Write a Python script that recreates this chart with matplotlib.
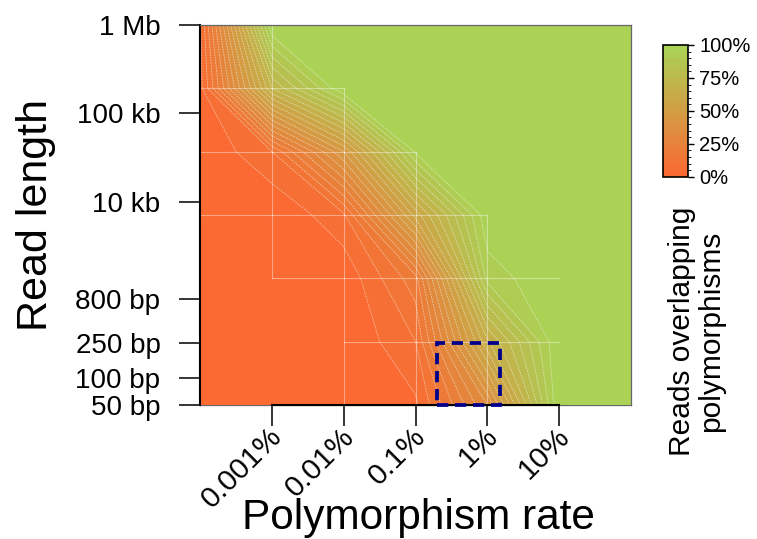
import numpy as np
import matplotlib
matplotlib.use("Agg")
import matplotlib.pyplot as plt
from matplotlib.colors import LinearSegmentedColormap, ListedColormap, BoundaryNorm
from matplotlib.patches import Rectangle
import matplotlib.transforms as mtransforms

plt.rcParams['font.family'] = ['Liberation Sans', 'DejaVu Sans']

# ---- data ----
rates = [1e-6, 1e-5, 1e-4, 1e-3, 1e-2, 1e-1, 1.0]          # polymorphism rate (fraction)
read_lengths = [50, 260, 1360, 7070, 36800, 192000, 1000000]  # bp
overlap = [  # fraction of reads overlapping polymorphisms, rows = read_lengths, cols = rates
    [0.00, 0.00, 0.00, 0.04, 0.35, 1.00, 1.00],
    [0.00, 0.00, 0.00, 0.10, 0.64, 1.00, 1.00],
    [0.00, 0.00, 0.01, 0.18, 0.92, 1.00, 1.00],
    [0.00, 0.00, 0.09, 0.57, 0.99, 1.00, 1.00],
    [0.00, 0.10, 0.45, 0.96, 1.00, 1.00, 1.00],
    [0.03, 0.70, 1.00, 1.00, 1.00, 1.00, 1.00],
    [0.04, 1.00, 1.00, 1.00, 1.00, 1.00, 1.00],
]
levels = [0.00, 0.05, 0.10, 0.15, 0.20, 0.25, 0.30, 0.35, 0.40, 0.45, 0.50,
          0.55, 0.60, 0.65, 0.70, 0.75, 0.80, 0.85, 0.90, 0.95, 1.00]
ytick_vals = [50, 100, 250, 800, 1e4, 1e5, 1e6]
ytick_labels = ['50 bp', '100 bp', '250 bp', '800 bp', '10 kb', '100 kb', '1 Mb']
xtick_vals = [1e-5, 1e-4, 1e-3, 1e-2, 1e-1]
xtick_labels = ['0.001%', '0.01%', '0.1%', '1%', '10%']
cbar_ticks = [0, 0.25, 0.5, 0.75, 1.0]
cbar_labels = ['0%', '25%', '50%', '75%', '100%']
highlight_rate = [0.002, 0.015]
highlight_len = [50, 250]

# ---- figure ----
W, H = 757, 539
fig = plt.figure(figsize=(W / 100, H / 100), dpi=100)
ax = fig.add_axes([200 / W, 1 - 405 / H, 431 / W, 380 / H])

X = np.log10(rates)
Y = np.log10(read_lengths)
Z = np.array(overlap)
lev = np.array(levels)
nb = len(lev) - 1

ramp = LinearSegmentedColormap.from_list('og', ['#FA6A32', '#ABD155'])
cmap = ListedColormap([ramp(k / (nb - 1)) for k in range(nb)])
norm = BoundaryNorm(lev, nb)

cf = ax.contourf(X, Y, Z, levels=lev, cmap=cmap, norm=norm)
ax.contour(X, Y, Z, levels=lev[1:-1], colors='white', linewidths=0.6,
           alpha=0.5, linestyles=[(0, (2.0, 1.2))])

# faint cell seams (left and bottom edges of cells that span several levels)
band = np.clip(np.searchsorted(lev, Z, side='left') - 1, 0, nb - 1)
for j in range(len(Y) - 1):
    for i in range(len(X) - 1):
        b = band[j:j + 2, i:i + 2]
        if b.max() != b.min():
            ax.plot([X[i], X[i]], [Y[j], Y[j + 1]], color='white', alpha=0.4, lw=0.8)
            ax.plot([X[i], X[i + 1]], [Y[j], Y[j]], color='white', alpha=0.4, lw=0.8)

# highlight box
hx = np.log10(highlight_rate)
hy = np.log10(highlight_len)
ax.add_patch(Rectangle((hx[0], hy[0]), hx[1] - hx[0], hy[1] - hy[0], fill=False,
                       ec='#00008B', lw=2.7, ls=(0, (3, 1.8)), clip_on=False, zorder=5))

ax.set_xlim(X[0], X[-1])
ax.set_ylim(Y[0], Y[-1])

# frame and axes
for s in ['top', 'right']:
    ax.spines[s].set_color('#666666')
    ax.spines[s].set_linewidth(0.9)
ax.spines['left'].set_linewidth(1.5)
ax.spines['bottom'].set_linewidth(1.5)
ax.spines['bottom'].set_bounds(np.log10(xtick_vals[0]), np.log10(xtick_vals[-1]))
ax.plot([X[0], X[-1]], [Y[0], Y[0]], color='#666666', lw=0.9, clip_on=False, zorder=0.5)

ax.set_yticks(np.log10(ytick_vals))
ax.set_yticklabels(ytick_labels)
ax.set_xticks(np.log10(xtick_vals))
ax.set_xticklabels(xtick_labels)
ax.tick_params(axis='both', direction='out', length=15, width=1.1, labelsize=20)
ax.tick_params(axis='y', pad=13.5)
ax.tick_params(axis='x', pad=4.5, labelsize=21.5)
offset = mtransforms.ScaledTranslation(6 / 100, 0, fig.dpi_scale_trans)
for lbl in ax.get_xticklabels():
    lbl.set_rotation(45)
    lbl.set_ha('right')
    lbl.set_va('center')
    lbl.set_rotation_mode('anchor')
    lbl.set_transform(lbl.get_transform() + offset)

fig.text(36 / W, 1 - 215 / H, 'Read length', rotation=90, ha='center', va='center', fontsize=31)
fig.text(418 / W, 1 - 529 / H, 'Polymorphism rate', ha='center', va='baseline', fontsize=30.5)

# colorbar
cax = fig.add_axes([662.7 / W, 1 - 176.7 / H, 25.6 / W, 131.7 / H])
cb = fig.colorbar(cf, cax=cax, ticks=cbar_ticks)
cb.set_ticklabels(cbar_labels)
cb.outline.set_linewidth(1.2)
cax.tick_params(length=4, width=1, labelsize=14.5, pad=4)
fig.text(697 / W, 1 - 331 / H, 'Reads overlapping\npolymorphisms', rotation=90,
         ha='center', va='center', fontsize=21.5, linespacing=1.05)

fig.savefig('out.png', dpi=100, facecolor='white')
